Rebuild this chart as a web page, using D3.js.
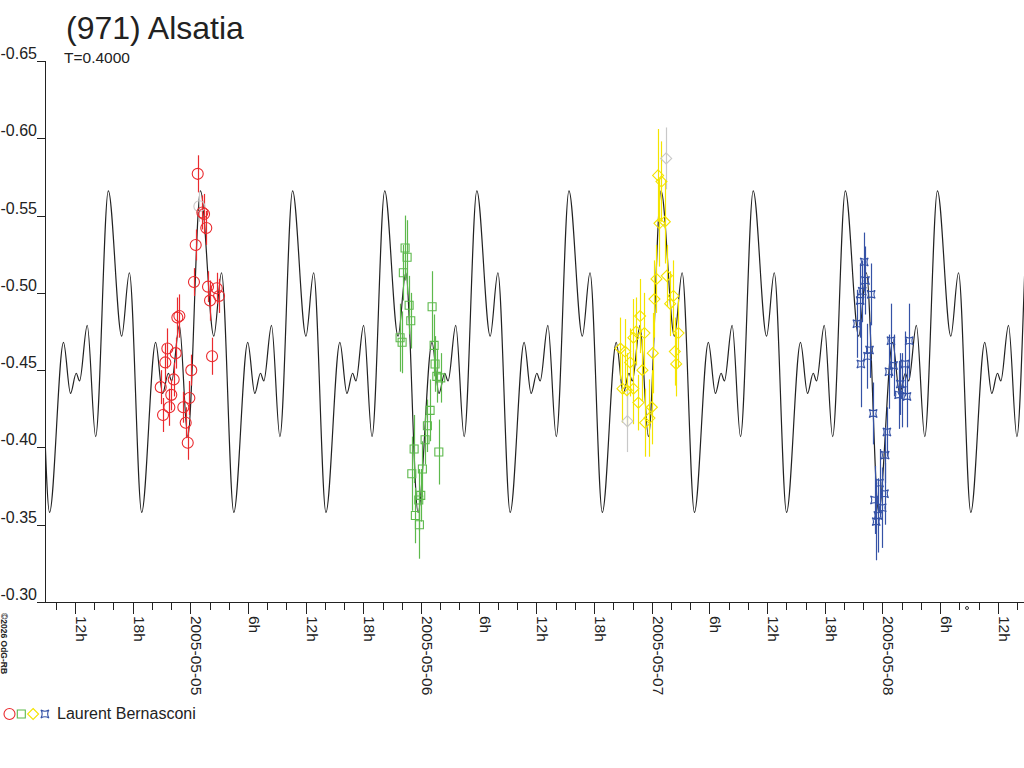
<!DOCTYPE html>
<html>
<head>
<meta charset="utf-8">
<script src="https://cdn.jsdelivr.net/npm/d3@7"></script>
<style>
    body { margin: 0; background: #fff; }
    svg { display: block; font-family: "Liberation Sans", Arial, sans-serif; }
</style>
</head>
<body>
<div id="container"></div>
<script>
// Observations: [hours after 2005-05-05 00:00 UT, magnitude, error, grey flag]
const night1 = [
    [-3.08, -0.439, 0.011], [-2.84, -0.421, 0.011], [-2.60, -0.455, 0.012], [-2.39, -0.464, 0.013],
    [-2.18, -0.426, 0.012], [-1.98, -0.434, 0.010], [-1.73, -0.444, 0.011], [-1.52, -0.461, 0.010],
    [-1.35, -0.484, 0.013], [-1.14, -0.485, 0.014], [-0.73, -0.426, 0.010], [-0.48, -0.416, 0.010],
    [-0.27, -0.403, 0.011], [-0.10, -0.432, 0.011], [0.10, -0.450, 0.010], [0.38, -0.507, 0.009],
    [0.56, -0.531, 0.010], [0.77, -0.577, 0.012], [0.94, -0.556, 0.010, 1], [1.25, -0.552, 0.011],
    [1.43, -0.551, 0.013], [1.66, -0.542, 0.011], [1.84, -0.504, 0.010], [2.05, -0.495, 0.013],
    [2.26, -0.459, 0.012], [2.75, -0.503, 0.010], [2.99, -0.498, 0.011]
];
const night2 = [
    [21.82, -0.471, 0.022], [22.03, -0.468, 0.020], [22.16, -0.513, 0.018], [22.34, -0.529, 0.021],
    [22.55, -0.523, 0.024], [22.76, -0.492, 0.019], [22.93, -0.482, 0.018], [23.04, -0.383, 0.024],
    [23.28, -0.399, 0.022], [23.41, -0.356, 0.018], [23.76, -0.366, 0.020], [23.83, -0.350, 0.022],
    [23.97, -0.369, 0.017], [24.14, -0.386, 0.018], [24.42, -0.405, 0.016], [24.66, -0.414, 0.017],
    [24.94, -0.424, 0.020], [25.15, -0.491, 0.023], [25.36, -0.466, 0.020], [25.46, -0.454, 0.018],
    [25.64, -0.446, 0.017], [25.85, -0.397, 0.021], [26.05, -0.445, 0.016]
];
const night3 = [
    [44.74, -0.464, 0.020], [44.95, -0.438, 0.022], [45.23, -0.462, 0.021], [45.41, -0.437, 0.024],
    [45.47, -0.417, 0.020, 1], [45.75, -0.455, 0.022], [46.09, -0.471, 0.025], [46.09, -0.438, 0.023],
    [46.37, -0.475, 0.022], [46.61, -0.429, 0.018], [46.79, -0.485, 0.024], [47.03, -0.450, 0.020],
    [47.24, -0.474, 0.026], [47.31, -0.416, 0.022], [47.76, -0.419, 0.025], [48.01, -0.426, 0.024],
    [48.11, -0.461, 0.026], [48.28, -0.496, 0.025], [48.49, -0.509, 0.022], [48.66, -0.576, 0.030],
    [48.80, -0.545, 0.028], [49.01, -0.572, 0.026], [49.36, -0.546, 0.027], [49.50, -0.587, 0.020, 1],
    [49.57, -0.511, 0.020], [49.91, -0.493, 0.021], [50.25, -0.498, 0.023], [50.40, -0.462, 0.022],
    [50.54, -0.454, 0.021], [50.78, -0.474, 0.022]
];
const night4 = [
    [69.34, -0.480, 0.022], [69.68, -0.495, 0.024], [69.75, -0.454, 0.028], [69.89, -0.501, 0.020],
    [70.10, -0.520, 0.019], [70.23, -0.508, 0.022], [70.44, -0.459, 0.021], [70.65, -0.463, 0.018],
    [70.82, -0.499, 0.020], [71.03, -0.422, 0.020], [71.17, -0.366, 0.022], [71.35, -0.352, 0.025],
    [71.52, -0.356, 0.024], [71.69, -0.377, 0.022], [71.97, -0.361, 0.026], [72.21, -0.370, 0.020],
    [72.28, -0.395, 0.018], [72.46, -0.410, 0.016], [72.67, -0.449, 0.024], [72.88, -0.469, 0.024],
    [73.15, -0.453, 0.020], [73.67, -0.434, 0.022], [73.85, -0.441, 0.020], [74.06, -0.437, 0.024],
    [74.34, -0.454, 0.021], [74.55, -0.433, 0.020], [74.78, -0.469, 0.024]
];

// One rotation of the fitted light curve: [hours after epoch, magnitude]
const curveCycle = [
    [0.00, -0.407], [1.32, -0.566], [2.71, -0.472], [3.51, -0.513], [4.79, -0.358],
    [6.24, -0.468], [6.97, -0.435], [7.56, -0.448], [7.91, -0.443], [8.71, -0.479]
];
const period = 9.583;               // hours (T=0.4000 d)
const epoch = "2005-05-06T04:29Z";  // a minimum of the fit

const baseDate = "2005-05-05T00:00Z";
const xDomain = ["2005-05-04T08:53Z", "2005-05-08T14:37Z"];
const yTicks = [-0.65, -0.60, -0.55, -0.50, -0.45, -0.40, -0.35, -0.30];
const observer = "Laurent Bernasconi";

function createChart(containerId) {
    const width = 1024;
    const height = 768;
    const left = 45, right = 1023, top = 61, bottom = 602;
    const hour = 3600 * 1000;
    const base = new Date(baseDate);

    const svg = d3.select(containerId)
        .append("svg")
        .attr("width", width)
        .attr("height", height);

    const x = d3.scaleUtc()
        .domain(xDomain.map(d => new Date(d)))
        .range([left, right]);

    const y = d3.scaleLinear()
        .domain([-0.65, -0.30])
        .range([top, bottom]);

    svg.append("defs").append("clipPath")
        .attr("id", "plot-clip")
        .append("rect")
        .attr("x", left).attr("y", 0)
        .attr("width", width - left).attr("height", bottom);

    // Title
    svg.append("text")
        .attr("x", 66).attr("y", 39)
        .style("font-size", "32px")
        .style("fill", "#222")
        .text("(971) Alsatia");

    svg.append("text")
        .attr("x", 64).attr("y", 63)
        .style("font-size", "15.5px")
        .style("fill", "#222")
        .text("T=0.4000");

    // Y axis
    svg.append("line")
        .attr("x1", left + 0.5).attr("x2", left + 0.5)
        .attr("y1", top).attr("y2", bottom)
        .attr("stroke", "#222");

    const yTick = svg.append("g")
        .selectAll("g")
        .data(yTicks)
        .enter().append("g");

    yTick.append("line")
        .attr("x1", 37).attr("x2", left)
        .attr("y1", d => Math.round(y(d)) + 0.5)
        .attr("y2", d => Math.round(y(d)) + 0.5)
        .attr("stroke", "#222");

    yTick.append("text")
        .attr("x", 37)
        .attr("y", d => Math.round(y(d)) - 2)
        .attr("text-anchor", "end")
        .style("font-size", "16px")
        .style("fill", "#222")
        .text(d => d.toFixed(2));

    // X axis
    svg.append("line")
        .attr("x1", 37).attr("x2", width)
        .attr("y1", bottom + 0.5).attr("y2", bottom + 0.5)
        .attr("stroke", "#222");

    const xTickValues = d3.utcHour.every(2).range(x.domain()[0], x.domain()[1]);
    const xTick = svg.append("g")
        .selectAll("g")
        .data(xTickValues)
        .enter().append("g")
        .attr("transform", d => `translate(${Math.round(x(d)) + 0.5},0)`);

    xTick.append("line")
        .attr("y1", bottom)
        .attr("y2", d => d.getUTCHours() % 6 === 0 ? bottom + 12 : bottom + 8)
        .attr("stroke", "#222");

    xTick.filter(d => d.getUTCHours() % 6 === 0)
        .append("text")
        .attr("transform", `translate(0,${bottom + 14}) rotate(90)`)
        .style("font-size", "15.5px")
        .style("fill", "#222")
        .text(d => d.getUTCHours() === 0 ? d3.utcFormat("%Y-%m-%d")(d) : d.getUTCHours() + "h");

    // little marker on the axis
    svg.append("circle")
        .attr("cx", 967).attr("cy", 608).attr("r", 1.5)
        .attr("fill", "none").attr("stroke", "#333");

    // Light curve: the fitted cycle repeated over the time range
    const ep = new Date(epoch);
    const curvePts = [];
    for (let k = -6; k <= 8; k++) {
        curveCycle.forEach(([ph, m]) => {
            curvePts.push([new Date(ep.getTime() + (k * period + ph) * hour), m]);
        });
    }

    const line = d3.line()
        .x(d => x(d[0]))
        .y(d => y(d[1]))
        .curve(d3.curveMonotoneX);

    svg.append("path")
        .datum(curvePts.filter(d => x(d[0]) > left - 150 && x(d[0]) < width + 150))
        .attr("clip-path", "url(#plot-clip)")
        .attr("d", line)
        .attr("fill", "none")
        .attr("stroke", "#222")
        .attr("stroke-width", 1.2);

    // Observation symbols
    const symbols = {
        circle: "M5.5,0A5.5,5.5 0 1,1 -5.5,0A5.5,5.5 0 1,1 5.5,0Z",
        square: "M-4,-4H4V4H-4Z",
        diamond: "M0,-5.5L5.5,0L0,5.5L-5.5,0Z",
        star: "M-4,-4Q0,-1.5 4,-4Q1.5,0 4,4Q0,1.5 -4,4Q-1.5,0 -4,-4Z"
    };

    const sessions = [
        { data: night1, color: "#ea2a2e", shape: "circle" },
        { data: night2, color: "#5db94c", shape: "square" },
        { data: night3, color: "#f4e400", shape: "diamond" },
        { data: night4, color: "#3552a6", shape: "star" }
    ];

    const grey = "#c8c8c8";

    sessions.forEach(s => {
        const g = svg.append("g");
        const pts = s.data.map(d => ({
            t: new Date(base.getTime() + d[0] * hour),
            m: d[1], e: d[2], grey: d[3] === 1
        }));

        g.selectAll(".err")
            .data(pts)
            .enter().append("line")
            .attr("x1", d => Math.round(x(d.t)) + 0.5)
            .attr("x2", d => Math.round(x(d.t)) + 0.5)
            .attr("y1", d => y(d.m - d.e))
            .attr("y2", d => y(d.m + d.e))
            .attr("stroke", d => d.grey ? grey : s.color)
            .attr("stroke-width", 1.2);

        g.selectAll(".pt")
            .data(pts)
            .enter().append("path")
            .attr("transform", d => `translate(${x(d.t)},${y(d.m)})`)
            .attr("d", symbols[s.shape])
            .attr("fill", "none")
            .attr("stroke", d => d.grey ? grey : s.color)
            .attr("stroke-width", 1.1);
    });

    // Copyright, rotated
    svg.append("text")
        .attr("transform", "translate(1,613) rotate(90)")
        .style("font-size", "8.5px")
        .style("font-weight", "bold")
        .style("fill", "#222")
        .text("©2026 OdG-RB");

    // Legend
    const legend = svg.append("g");
    sessions.forEach((s, i) => {
        legend.append("path")
            .attr("transform", `translate(${9.5 + i * 11.8},714)`)
            .attr("d", symbols[s.shape])
            .attr("fill", "none")
            .attr("stroke", s.color)
            .attr("stroke-width", 1.1);
    });

    legend.append("text")
        .attr("x", 57).attr("y", 719)
        .style("font-size", "16px")
        .style("fill", "#222")
        .text(observer);
}

createChart("#container");
</script>
</body>
</html>
